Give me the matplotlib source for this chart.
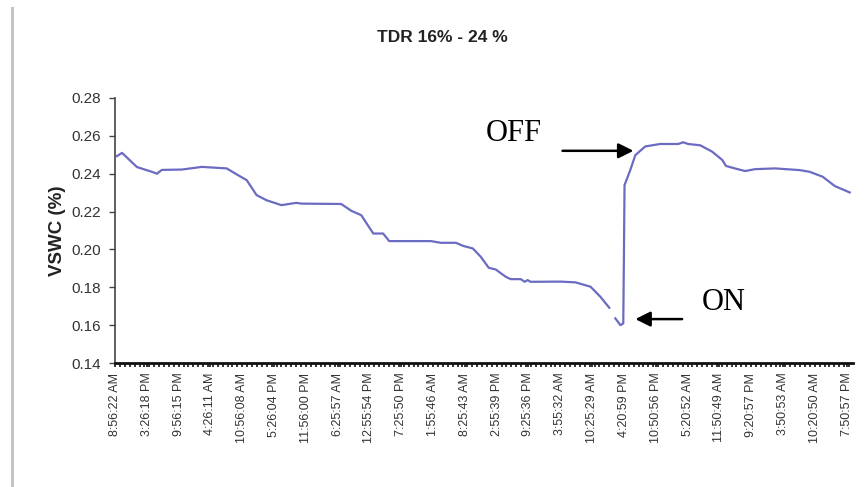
"""TDR 16% - 24 % : soil water content trace with irrigation ON / OFF marks."""

import matplotlib
matplotlib.use("Agg")
import matplotlib.pyplot as plt
import numpy as np
from matplotlib.lines import Line2D
from matplotlib.ticker import FormatStrFormatter, MultipleLocator

# ---------------------------------------------------------------------------
# Data
# ---------------------------------------------------------------------------

TICK_LABELS = [
    "8:56:22 AM", "3:26:18 PM", "9:56:15 PM", "4:26:11 AM", "10:56:08 AM",
    "5:26:04 PM", "11:56:00 PM", "6:25:57 AM", "12:55:54 PM", "7:25:50 PM",
    "1:55:46 AM", "8:25:43 AM", "2:55:39 PM", "9:25:36 PM", "3:55:32 AM",
    "10:25:29 AM", "4:20:59 PM", "10:50:56 PM", "5:20:52 AM", "11:50:49 AM",
    "9:20:57 PM", "3:50:53 AM", "10:20:50 AM", "7:50:57 PM",
]

# position along the category axis, in units of labelled ticks
reading_pos = [
    0.06, 0.22, 0.69, 1.16, 1.32, 1.47, 2.10, 2.73, 3.51, 3.82, 4.14, 4.45,
    4.76, 5.23, 5.70, 5.86, 7.11, 7.43, 7.74, 8.12, 8.43, 8.62, 9.93, 10.25,
    10.72, 10.94, 11.25, 11.50, 11.75, 11.97, 12.28, 12.44, 12.76, 12.88,
    12.97, 13.07, 14.01, 14.48, 14.95, 15.26, 15.54, 15.64, 15.73, 15.89,
    15.98, 16.00, 16.02, 16.20, 16.36, 16.67, 17.14, 17.71, 17.86, 18.02,
    18.40, 18.77, 19.09, 19.21, 19.49, 19.81, 20.12, 20.75, 21.53, 21.84,
    22.25, 22.63, 23.10,
]

vswc = [
    0.2493, 0.2510, 0.2435, 0.2410, 0.2400, 0.2420, 0.2422, 0.2436, 0.2428,
    0.2397, 0.2366, 0.2287, 0.2260, 0.2234, 0.2246, 0.2242, 0.2240, 0.2204,
    0.2181, 0.2084, 0.2084, 0.2044, 0.2044, 0.2035, 0.2035, 0.2019, 0.2005,
    0.1961, 0.1903, 0.1894, 0.1856, 0.1843, 0.1843, 0.1829, 0.1838, 0.1829,
    0.1830, 0.1826, 0.1803, 0.1750, 0.1692, np.nan, 0.1636, 0.1600, 0.1609,
    0.1960, 0.2340, 0.2419, 0.2498, 0.2544, 0.2557, 0.2557, 0.2566, 0.2557,
    0.2550, 0.2517, 0.2473, 0.2441, 0.2428, 0.2414, 0.2424, 0.2428, 0.2419,
    0.2410, 0.2384, 0.2335, 0.2301,
]

# ---------------------------------------------------------------------------
# Style
# ---------------------------------------------------------------------------

LINE_COLOR = "#6B6BC2"
TEXT_GRAY = "#333333"
SANS = ["Liberation Sans", "DejaVu Sans"]
SERIF = ["Liberation Serif", "DejaVu Serif"]

fig = plt.figure(figsize=(8.65, 4.87), dpi=100)
fig.patch.set_facecolor("white")
ax = fig.add_axes([0.133, 0.2546, 0.853, 0.5442])

ax.plot(reading_pos, vswc, color=LINE_COLOR, lw=1.6, solid_joinstyle="round")

ax.set_xlim(0, 23.2)
ax.set_ylim(0.14, 0.28)
ax.yaxis.set_major_locator(MultipleLocator(0.02))
ax.yaxis.set_major_formatter(FormatStrFormatter("%.2f"))

ax.set_xticks(range(len(TICK_LABELS)))
ax.set_xticklabels(TICK_LABELS, rotation=90, family=SANS, fontsize=9,
                   color=TEXT_GRAY)
ax.xaxis.set_minor_locator(MultipleLocator(1 / 6.5))
ax.tick_params(axis="x", which="both", direction="out", length=3, width=1.2,
               pad=4, color="#111111")
ax.tick_params(axis="y", direction="out", length=4, width=1, pad=6,
               color="#444444")
for lab in ax.get_yticklabels():
    lab.set_family(SANS)
    lab.set_fontsize(11)
    lab.set_color(TEXT_GRAY)

for side in ("top", "right"):
    ax.spines[side].set_visible(False)
ax.spines["left"].set_color("#444444")
ax.spines["left"].set_linewidth(1.2)
ax.spines["bottom"].set_color("#111111")
ax.spines["bottom"].set_linewidth(2.0)

ax.set_ylabel("VSWC (%)", family=SANS, fontsize=13.5, fontweight="bold",
              color="#222222", labelpad=4)
fig.text(0.511, 0.922, "TDR 16% - 24 %", ha="center", va="center",
         family=SANS, fontsize=12.5, fontweight="bold", color="#222222")

# ON / OFF markers
arrow = dict(arrowstyle="-|>,head_length=0.9,head_width=0.45", color="black",
             lw=1.8, shrinkA=0, shrinkB=0)
ax.annotate("", xy=(16.30, 0.2521), xytext=(14.07, 0.2521), arrowprops=arrow)
ax.annotate("", xy=(16.36, 0.1632), xytext=(17.83, 0.1632), arrowprops=arrow)
ax.text(11.66, 0.2614, "OFF", family=SERIF, fontsize=22, va="center",
        ha="left", color="black")
ax.text(18.46, 0.1722, "ON", family=SERIF, fontsize=22, va="center",
        ha="left", color="black")

# frame line on the left edge of the picture
fig.add_artist(Line2D([11.5 / 865, 11.5 / 865], [0, 1 - 8 / 487],
                      transform=fig.transFigure, color="#C4C4C4", lw=2.2))

fig.savefig("out.png", dpi=100, facecolor="white")
